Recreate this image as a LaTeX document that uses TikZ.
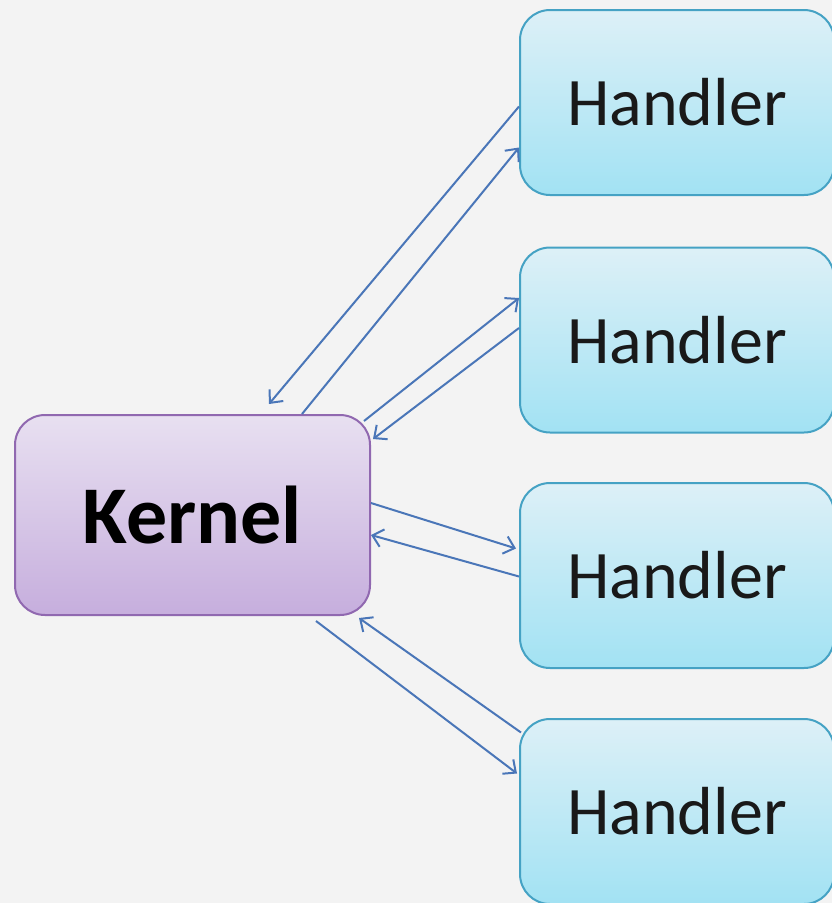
\documentclass[tikz,border=0pt]{standalone}
\usepackage{fontspec}
\usepackage{tikz}
\usetikzlibrary{arrows.meta}
\newfontfamily\boxfont{Carlito}
\definecolor{bgcol}{HTML}{F3F3F3}
\definecolor{kerntop}{HTML}{E8E0F1}
\definecolor{kernbot}{HTML}{C6AEDD}
\definecolor{kernline}{HTML}{9068B0}
\definecolor{handtop}{HTML}{DDF0F7}
\definecolor{handbot}{HTML}{A2E2F3}
\definecolor{handline}{HTML}{45A2C4}
\definecolor{arrowcol}{HTML}{4A76B8}

\tikzset{
  kernelbox/.style={rounded corners=30pt, draw=kernline, line width=2pt,
    top color=kerntop, bottom color=kernbot, minimum width=355pt, minimum height=200pt,
    font=\boxfont\bfseries\fontsize{82}{90}\selectfont, text=black},
  handlerbox/.style={rounded corners=30pt, draw=handline, line width=2pt,
    top color=handtop, bottom color=handbot, minimum width=314pt, minimum height=185pt,
    font=\boxfont\fontsize{68}{80}\selectfont, text=black!90},
  msg/.style={draw=arrowcol, line width=2pt, -{Straight Barb[length=10pt,width=18pt]}}
}

\begin{document}
\begin{tikzpicture}[x=1pt, y=1pt]
   \useasboundingbox (0,0) rectangle (832,-903);
   \fill[bgcol] (0,0) rectangle (832,-903);

   \node[kernelbox] (kernel) at (192.5,-515) {Kernel};

   \node[handlerbox] (h1) at (677,-102.5) {Handler};
   \node[handlerbox] (h2) at (677,-340) {Handler};
   \node[handlerbox] (h3) at (677,-575.5) {Handler};
   \node[handlerbox] (h4) at (677,-811.5) {Handler};

   % first handler
   \draw[msg] ([yshift=-4pt]h1.west) -- ([xshift=255pt,yshift=10pt]kernel.north west);
   \draw[msg] ([xshift=288pt]kernel.north west) -- ([yshift=-45pt]h1.west);
   % second handler
   \draw[msg] ([xshift=-7pt,yshift=-7pt]kernel.north east) -- ([yshift=42pt]h2.west);
   \draw[msg] ([yshift=12pt]h2.west) -- ([xshift=2pt,yshift=-25pt]kernel.north east);
   % third handler
   \draw[msg] ([yshift=12pt]kernel.east) -- ([xshift=-3pt,yshift=27pt]h3.west);
   \draw[msg] ([yshift=-1pt]h3.west) -- ([yshift=-20pt]kernel.east);
   % fourth handler
   \draw[msg] ([xshift=2pt,yshift=79pt]h4.west) -- ([xshift=-12pt,yshift=-2pt]kernel.south east);
   \draw[msg] ([xshift=-55pt,yshift=-5pt]kernel.south east) -- ([xshift=-2pt,yshift=38pt]h4.west);
\end{tikzpicture}
\end{document}
